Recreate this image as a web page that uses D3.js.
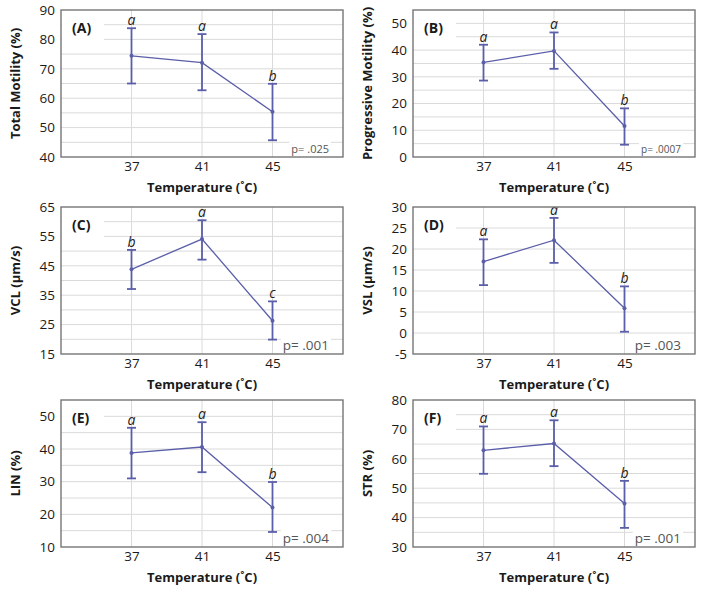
<!DOCTYPE html>
<html><head><meta charset="utf-8">
<script src="https://cdn.jsdelivr.net/npm/d3@7"></script>
<style>body{margin:0;background:#fff;} svg{display:block;font-family:"Open Sans",sans-serif;}</style>
</head><body><svg id="chart" width="704" height="592"></svg>
<script>
// ---- data ----
const temperatures = ["37", "41", "45"];

const meanA = [74.4, 72.1, 55.4], upperA = [83.8, 81.8, 64.9], lowerA = [65.0, 62.7, 45.7];
const lettersA = ["a", "a", "b"];
const ticksA = [40, 50, 60, 70, 80, 90];

const meanB = [35.4, 39.7, 11.6], upperB = [42.0, 46.6, 18.2], lowerB = [28.6, 33.0, 4.6];
const lettersB = ["a", "a", "b"];
const ticksB = [0, 10, 20, 30, 40, 50];

const meanC = [43.8, 54.1, 26.3], upperC = [50.4, 60.5, 32.9], lowerC = [37.1, 47.1, 19.9];
const lettersC = ["b", "a", "c"];
const ticksC = [15, 25, 35, 45, 55, 65];

const meanD = [17.0, 22.1, 5.9], upperD = [22.3, 27.4, 11.1], lowerD = [11.4, 16.7, 0.3];
const lettersD = ["a", "a", "b"];
const ticksD = [-5, 0, 5, 10, 15, 20, 25, 30];

const meanE = [38.8, 40.6, 22.1], upperE = [46.5, 48.2, 29.9], lowerE = [31.0, 32.9, 14.6];
const lettersE = ["a", "a", "b"];
const ticksE = [10, 20, 30, 40, 50];

const meanF = [62.9, 65.2, 44.8], upperF = [71.0, 73.1, 52.5], lowerF = [54.9, 57.5, 36.5];
const lettersF = ["a", "a", "b"];
const ticksF = [30, 40, 50, 60, 70, 80];

const panelTags = ["(A)", "(B)", "(C)", "(D)", "(E)", "(F)"];
const yTitles = ["Total Motility (%)", "Progressive Motility (%)", "VCL (µm/s)", "VSL (µm/s)", "LIN (%)", "STR (%)"];
const pTexts = ["p= .025", "p= .0007", "p= .001", "p= .003", "p= .004", "p= .001"];
const yDomains = [[40, 90], [0, 55], [15, 65], [-5, 30], [10, 55], [30, 80]];
const xTitle = "Temperature (˚C)";

// ---- layout ----
const colX = [61, 413];
const rowY = [10, 207, 400];
const W = 282, H = 147;
const pSizes = [11, 10, 13.5, 13.5, 13.5, 13.5];
const lineColor = "#5b5ea8";

const panels = [
  {mean: meanA, up: upperA, lo: lowerA, letters: lettersA, ticks: ticksA},
  {mean: meanB, up: upperB, lo: lowerB, letters: lettersB, ticks: ticksB},
  {mean: meanC, up: upperC, lo: lowerC, letters: lettersC, ticks: ticksC},
  {mean: meanD, up: upperD, lo: lowerD, letters: lettersD, ticks: ticksD},
  {mean: meanE, up: upperE, lo: lowerE, letters: lettersE, ticks: ticksE},
  {mean: meanF, up: upperF, lo: lowerF, letters: lettersF, ticks: ticksF}
].map((p, i) => Object.assign(p, {
  tag: panelTags[i], yTitle: yTitles[i], pText: pTexts[i], domain: yDomains[i],
  x0: colX[i % 2], y0: rowY[Math.floor(i / 2)], pSize: pSizes[i]
}));

const svg = d3.select("#chart");

panels.forEach(p => {
  const g = svg.append("g").attr("transform", `translate(${p.x0},${p.y0})`);
  const x = d3.scalePoint().domain(temperatures).range([0, W]).padding(1);
  const y = d3.scaleLinear().domain(p.domain).range([H, 0]);

  // grid
  const gridVals = d3.range(p.domain[0] + 5, p.domain[1], 5);
  g.selectAll(".hg").data(gridVals).join("line")
    .attr("x1", 0).attr("x2", W).attr("y1", d => y(d)).attr("y2", d => y(d))
    .attr("stroke", "#dadada").attr("stroke-width", 1);
  g.selectAll(".vg").data(temperatures).join("line")
    .attr("x1", d => x(d)).attr("x2", d => x(d)).attr("y1", 0).attr("y2", H)
    .attr("stroke", "#dadada").attr("stroke-width", 1);

  // panel tag
  g.append("rect").attr("x", 1).attr("y", 6).attr("width", 42).attr("height", 24).attr("fill", "#fff");
  g.append("text").attr("x", 11).attr("y", 23).text(p.tag)
    .attr("font-weight", "bold").attr("font-size", 14).attr("fill", "#1a1a1a");

  // p value
  const pt = g.append("text").attr("x", W - 14).attr("y", H - 4).attr("text-anchor", "end")
    .attr("font-size", p.pSize).attr("fill", "#555").text(p.pText);
  const bb = pt.node().getBBox();
  g.insert("rect", "text:last-of-type").attr("x", bb.x - 2).attr("y", bb.y).attr("width", bb.width + 4)
    .attr("height", bb.height).attr("fill", "#fff");

  // line
  const line = d3.line().x((d, i) => x(temperatures[i])).y(d => y(d));
  g.append("path").datum(p.mean).attr("d", line).attr("fill", "none")
    .attr("stroke", lineColor).attr("stroke-width", 1.3);

  // error bars
  temperatures.forEach((t, i) => {
    const cx = x(t);
    g.append("line").attr("x1", cx).attr("x2", cx).attr("y1", y(p.lo[i])).attr("y2", y(p.up[i]))
      .attr("stroke", lineColor).attr("stroke-width", 1.8);
    [p.lo[i], p.up[i]].forEach(v => {
      g.append("line").attr("x1", cx - 4.5).attr("x2", cx + 4.5).attr("y1", y(v)).attr("y2", y(v))
        .attr("stroke", lineColor).attr("stroke-width", 1.8);
    });
    g.append("circle").attr("cx", cx).attr("cy", y(p.mean[i])).attr("r", 2).attr("fill", lineColor);
    g.append("text").attr("x", cx).attr("y", y(p.up[i]) - 3).attr("text-anchor", "middle")
      .attr("font-style", "italic").attr("font-size", 14).attr("fill", "#222").text(p.letters[i]);
  });

  // box
  g.append("rect").attr("x", 0).attr("y", 0).attr("width", W).attr("height", H)
    .attr("fill", "none").attr("stroke", "#767676").attr("stroke-width", 1.4);

  // axes
  const ya = g.append("g").call(d3.axisLeft(y).tickValues(p.ticks).tickSize(0).tickPadding(6)
    .tickFormat(d => String(d)));
  ya.select(".domain").remove();
  ya.selectAll("text").attr("font-size", 13.5).attr("fill", "#1a1a1a").attr("font-family", "Open Sans");
  const xa = g.append("g").attr("transform", `translate(0,${H})`)
    .call(d3.axisBottom(x).tickSize(0).tickPadding(4));
  xa.select(".domain").remove();
  xa.selectAll("text").attr("font-size", 13.5).attr("fill", "#1a1a1a").attr("font-family", "Open Sans");

  // titles
  g.append("text").attr("x", W / 2).attr("y", H + 35).attr("text-anchor", "middle")
    .attr("font-weight", "bold").attr("font-size", 13).attr("fill", "#1a1a1a").text(xTitle);
  g.append("text").attr("transform", `translate(-41,${H / 2}) rotate(-90)`).attr("text-anchor", "middle")
    .attr("font-weight", "bold").attr("font-size", 13).attr("fill", "#1a1a1a").text(p.yTitle);
});
</script></body></html>
